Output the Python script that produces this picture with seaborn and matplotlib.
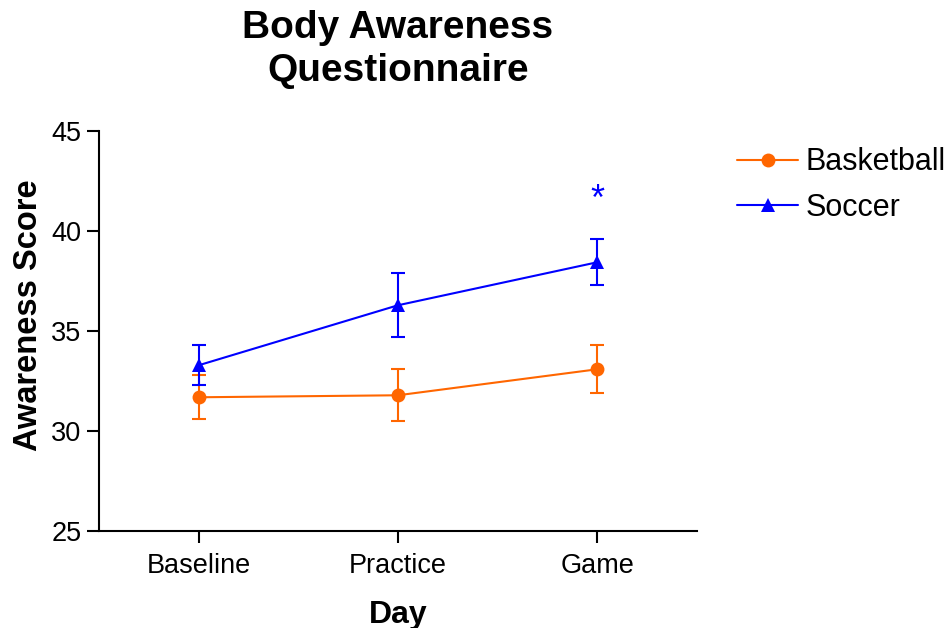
import matplotlib
matplotlib.use("Agg")
import matplotlib.pyplot as plt
import seaborn as sns
import pandas as pd

days = ["Baseline", "Practice", "Game"]
groups = ["Basketball", "Soccer"]
basketball_mean = [31.7, 31.8, 33.1]
basketball_sem = [1.1, 1.3, 1.2]
soccer_mean = [33.3, 36.3, 38.45]
soccer_sem = [1.0, 1.6, 1.15]
significance_marks = ["", "", "*"]

colors = {"Basketball": "#FF6600", "Soccer": "#0000FF"}
markers = {"Basketball": "o", "Soccer": "^"}

df = pd.DataFrame({
    "Day": days * 2,
    "Group": ["Basketball"] * 3 + ["Soccer"] * 3,
    "Score": basketball_mean + soccer_mean,
    "SEM": basketball_sem + soccer_sem,
})

sns.set_style("ticks")
plt.rcParams["font.family"] = ["Liberation Sans", "DejaVu Sans"]
plt.rcParams["text.color"] = "black"
plt.rcParams["axes.labelcolor"] = "black"

fig = plt.figure(figsize=(9.52, 6.28), dpi=100)
ax = fig.add_axes([0.104, 0.154, 0.628, 0.637])

sns.lineplot(data=df, x="Day", y="Score", hue="Group", style="Group",
             markers=markers, dashes=False, palette=colors, ax=ax,
             linewidth=1.5, markersize=10, markeredgewidth=0, sort=False)

pos = {d: i for i, d in enumerate(days)}
for g in groups:
    sub = df[df["Group"] == g]
    ax.errorbar([pos[d] for d in sub["Day"]], sub["Score"], yerr=sub["SEM"],
                fmt="none", ecolor=colors[g], elinewidth=1.5, capsize=5.3,
                capthick=1.5, zorder=1)

# significance annotation above Soccer error bar
for i, m in enumerate(significance_marks):
    if m:
        top = soccer_mean[i] + soccer_sem[i]
        ax.text(i, top + 1.95, m, color="#0000FF", ha="center", va="center",
                fontsize=26)

ax.set_xlim(-0.5, 2.5)
ax.set_ylim(25, 45)
ax.set_yticks([25, 30, 35, 40, 45])
ax.set_xticks(range(len(days)))
ax.set_xticklabels(days)
sns.despine(ax=ax)
for s in ["left", "bottom"]:
    ax.spines[s].set_linewidth(1.5)
    ax.spines[s].set_color("black")
ax.tick_params(axis="both", length=8.5, width=1.5, labelsize=19.5,
               colors="black", labelcolor="black", pad=4)
ax.tick_params(axis="x", pad=7)

ax.set_xlabel("Day", fontsize=23, fontweight="bold", labelpad=15)
ax.set_ylabel("Awareness Score", fontsize=23.5, fontweight="bold",
              labelpad=5, y=0.54)
ax.set_title("Body Awareness\nQuestionnaire", fontsize=28, fontweight="bold",
             pad=36, linespacing=1.25)

leg = ax.legend(loc="upper left", bbox_to_anchor=(1.047, 0.99), frameon=False,
                fontsize=22, handlelength=2.0, handletextpad=0.25,
                labelspacing=0.5, borderaxespad=0)
for h in leg.legend_handles:
    h.set_linewidth(1.5)
for t in leg.get_texts():
    t.set_color("black")

fig.savefig("out.png", dpi=100)
